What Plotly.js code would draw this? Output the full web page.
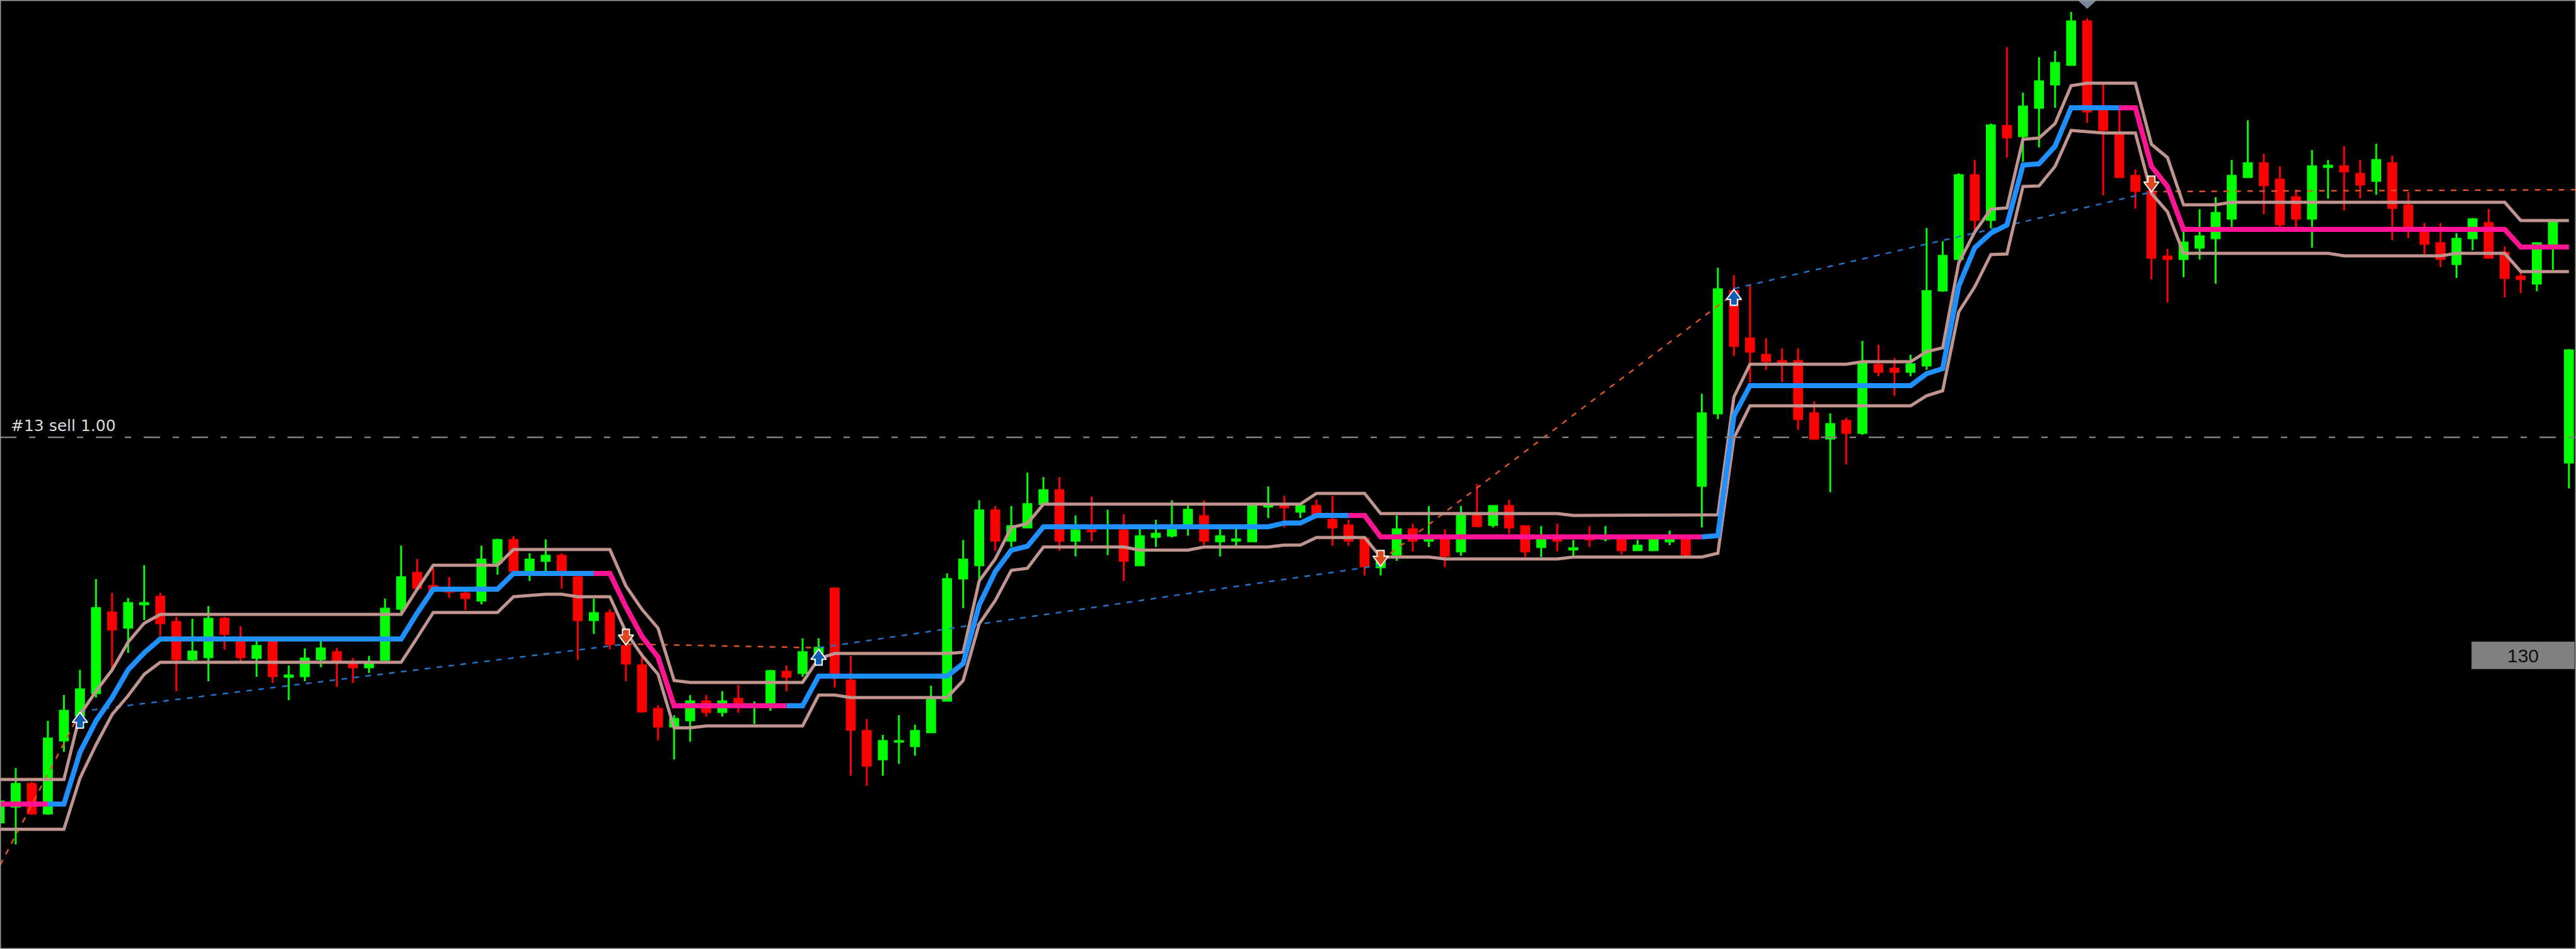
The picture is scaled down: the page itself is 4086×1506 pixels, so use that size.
<!DOCTYPE html>
<html>
<head>
<meta charset="utf-8">
<script src="https://cdn.plot.ly/plotly-3.0.1.min.js"></script>
<style>
  html, body { margin: 0; padding: 0; background: #000; }
  #chart { width: 4086px; height: 1506px; }
</style>
</head>
<body>
<div id="chart"></div>
<script>
// ---------- DATA (prices in points) ----------
const openPx = [
  201,226,262,215,331,370,406,534,510,547,
  559,519,460,463,524,487,462,487,432,433,
  460,471,453,447,459,540,597,576,570,564,
  553,613,649,599,616,624,590,522,533,481,
  450,381,353,363,393,376,397,386,386,440,
  438,459,572,426,346,301,329,322,344,394,
  588,609,696,648,669,706,728,648,664,669,
  664,609,654,656,669,687,647,648,647,702,
  706,694,703,681,672,651,606,626,666,648,
  651,631,688,673,703,671,638,651,634,656,
  651,650,633,633,647,650,735,850,1044,969,
  943,933,933,850,810,838,819,927,921,916,
  926,1045,1095,1228,1157,1306,1290,1335,1372,1403,
  1472,1331,1295,1227,1202,1099,1095,1113,1128,1159,
  1225,1247,1221,1193,1159,1241,1242,1230,1219,1247,
  1180,1140,1120,1087,1128,1152,1105,1067,1056,1115,
  772];
const highPx = [
  241,287,265,362,403,443,587,565,557,609,
  565,527,524,544,527,512,488,489,450,477,
  488,478,462,465,556,640,619,604,590,568,
  640,651,655,628,650,628,594,556,539,491,
  471,387,371,403,403,409,419,393,443,450,
  493,493,574,465,365,340,371,356,418,596,
  649,712,703,703,756,749,749,688,718,697,
  690,666,681,712,704,712,666,666,706,734,
  719,706,713,719,681,653,621,688,675,703,
  666,703,738,704,713,672,671,675,649,671,
  671,656,649,654,664,656,881,1081,1069,1054,
  969,953,953,869,850,843,965,959,938,943,
  1144,1123,1231,1252,1310,1431,1359,1415,1425,1487,
  1477,1372,1335,1237,1203,1111,1138,1174,1193,1252,
  1315,1262,1242,1205,1268,1252,1274,1252,1278,1259,
  1201,1152,1152,1136,1160,1174,1115,1078,1121,1156,
  952];
const lowPx = [
  196,166,213,213,313,366,399,439,470,522,
  497,409,456,425,475,456,432,422,395,425,
  447,416,422,438,458,534,571,566,557,538,
  547,594,598,584,599,572,459,500,476,425,
  375,331,301,329,369,369,375,357,378,409,
  432,456,415,275,259,275,294,307,343,393,
  541,584,632,638,668,705,632,623,647,625,
  584,608,638,653,656,641,623,640,646,684,
  669,684,688,640,640,593,593,616,631,638,
  606,624,670,669,659,622,622,631,622,638,
  647,626,632,632,641,621,669,841,941,899,
  919,900,824,809,725,769,816,909,878,909,
  919,1043,1093,1138,1144,1256,1249,1272,1335,1402,
  1311,1196,1224,1175,1063,1026,1066,1094,1056,1146,
  1224,1166,1144,1144,1113,1191,1172,1191,1197,1125,
  1128,1103,1082,1065,1109,1096,1034,1041,1044,1078,
  731];
const closePx = [
  234,262,215,334,378,412,541,507,549,549,
  517,460,472,524,500,463,481,433,434,461,
  477,456,447,454,540,590,573,569,567,557,
  618,649,600,618,624,600,522,533,484,453,
  377,353,365,393,376,393,386,388,441,432,
  471,478,433,348,291,330,330,346,398,587,
  618,696,648,671,706,728,648,664,663,671,
  616,655,659,667,697,648,655,650,704,703,
  701,703,689,669,648,607,619,666,648,649,
  624,688,671,703,669,631,649,648,636,650,
  656,633,640,650,649,626,850,1047,957,948,
  933,931,841,810,833,819,929,916,916,928,
  1044,1100,1228,1157,1307,1288,1337,1377,1406,1472,
  1329,1300,1225,1203,1097,1095,1121,1131,1168,1227,
  1247,1212,1150,1159,1242,1243,1234,1213,1252,1176,
  1146,1119,1095,1127,1158,1097,1065,1063,1120,1153,
  950];

// Channel indicator: middle line and bands
const midLine = [
  230,230,230,230,230,312,362,399,443,470,
  492,492,492,492,492,492,492,492,492,492,
  492,492,492,492,492,492,533,571,571,571,
  571,571,596,596,596,596,596,596,596,543,
  496,463,386,386,386,386,386,386,386,386,
  386,433,433,433,433,433,433,433,433,433,
  453,546,599,633,639,670,670,670,670,670,
  670,670,670,670,670,670,670,670,670,670,
  676,676,688,688,688,688,654,654,654,654,
  654,654,654,654,654,654,654,654,654,654,
  654,654,654,654,654,654,654,656,846,894,
  894,894,894,894,894,894,894,894,894,894,
  913,921,1052,1113,1136,1149,1244,1246,1274,1335,
  1335,1335,1335,1335,1242,1210,1142,1142,1142,1142,
  1142,1142,1142,1142,1142,1142,1142,1142,1142,1142,
  1142,1142,1142,1142,1142,1142,1142,1114,1114,1114,
  1114];
const upperBand = [
  269,269,269,269,269,372,409,443,487,517,
  531,531,531,531,531,531,531,531,531,531,
  531,531,531,531,531,531,571,609,609,609,
  609,609,634,634,634,634,634,634,634,576,
  539,509,426,423,423,423,423,423,423,423,
  423,461,469,469,469,469,469,469,469,469,
  471,584,619,669,675,706,706,706,706,706,
  706,706,706,706,706,706,706,706,706,706,
  706,706,723,723,723,723,691,691,691,691,
  691,691,691,691,691,691,691,691,688,688,
  688,688,688,688,688,688,688,689,876,928,
  928,928,928,928,928,928,932,932,932,932,
  948,954,1089,1138,1174,1176,1285,1287,1310,1370,
  1374,1374,1374,1374,1277,1256,1181,1181,1181,1185,
  1185,1185,1185,1185,1185,1185,1185,1185,1185,1185,
  1185,1185,1185,1185,1185,1185,1185,1156,1156,1156,
  1156];
const lowerBand = [
  190,190,190,190,190,271,324,372,402,436,
  455,455,455,455,455,455,455,455,455,455,
  455,455,455,455,455,455,494,534,534,534,
  534,534,559,561,563,563,559,559,559,503,
  466,436,351,351,354,354,354,354,354,354,
  354,403,403,399,399,399,399,399,399,399,
  426,516,553,601,604,638,638,638,638,638,
  638,633,633,633,633,638,638,638,638,638,
  641,641,653,653,653,653,622,622,622,622,
  619,619,619,619,619,619,619,619,622,622,
  622,622,622,622,622,622,622,628,811,862,
  862,862,862,862,862,862,862,862,862,862,
  878,886,1011,1051,1102,1103,1210,1211,1242,1299,
  1297,1295,1295,1295,1199,1170,1104,1104,1104,1104,
  1104,1104,1104,1104,1104,1104,1100,1100,1100,1100,
  1100,1100,1100,1104,1104,1104,1104,1075,1075,1075,
  1075];
// trend of the middle line: bar where each trend starts (last entry = last bar)
const trendBreaks = [0, 3, 37, 49, 84, 106, 132, 160];
const trendDirs   = ['down', 'up', 'down', 'up', 'down', 'up', 'down'];

// Trade history
const tradeType       = ['sell', 'buy', 'sell', 'buy', 'sell', 'buy', 'sell'];
const tradeOpenBar    = [-1, 5, 39, 51, 86, 108, 134];
const tradeOpenPrice  = [83, 377, 484, 478, 616, 1048, 1202];
const tradeCloseBar   = [5, 39, 51, 86, 108, 134, 161];
const tradeClosePrice = [375, 484, 478, 609, 1040, 1201, 1205];
const buyArrowBar     = [5, 51, 108];
const buyArrowPrice   = [362, 462, 1033];
const sellArrowBar    = [39, 86, 134];
const sellArrowPrice  = [496, 621, 1215];

// Open order line and labels
const orderPrice = 812;
const orderLabel = '#13 sell 1.00';
const valueLabelPrice = 466;
const valueLabel = '130';
const shiftMarkBar = 130;

// ---------- CHART ----------
const bars = openPx.map((_, i) => i);
const BLUE = '#1E90FF', PINK = '#FF1493', BAND = '#C09590';
const traces = [];

traces.push({
  type: 'candlestick', x: bars,
  open: openPx, high: highPx, low: lowPx, close: closePx,
  increasing: { line: { color: '#00FF00', width: 3 }, fillcolor: '#00FF00' },
  decreasing: { line: { color: '#FF0000', width: 3 }, fillcolor: '#FF0000' },
  whiskerwidth: 0, hoverinfo: 'skip', showlegend: false
});

// trade lines
for (let k = 0; k < tradeType.length; k++) {
  traces.push({
    type: 'scatter', mode: 'lines',
    x: [tradeOpenBar[k], tradeCloseBar[k]],
    y: [tradeOpenPrice[k], tradeClosePrice[k]],
    line: { color: tradeType[k] === 'buy' ? '#2174C6' : '#DC5422', width: 2.5, dash: '9px,10px' },
    hoverinfo: 'skip', showlegend: false
  });
}

// bands
[upperBand, lowerBand].forEach(b => traces.push({
  type: 'scatter', mode: 'lines', x: bars, y: b,
  line: { color: BAND, width: 5 }, hoverinfo: 'skip', showlegend: false
}));

// middle line, coloured by trend
for (let k = 0; k < trendDirs.length; k++) {
  const s = trendBreaks[k], e = trendBreaks[k + 1];
  traces.push({
    type: 'scatter', mode: 'lines',
    x: bars.slice(s, e + 1), y: midLine.slice(s, e + 1),
    line: { color: trendDirs[k] === 'up' ? BLUE : PINK, width: 8 },
    hoverinfo: 'skip', showlegend: false
  });
}

// trade arrows (stem + head with white outline)
function arrow(barsA, prices, dir, fill) {
  const sgn = dir === 'up' ? 1 : -1;
  const stemY = prices.map(p => p - sgn * 6);
  const headY = prices.map(p => p + sgn * 3);
  traces.push({ type: 'scatter', mode: 'markers', x: barsA, y: stemY,
    marker: { symbol: 'square', size: 11, color: fill, line: { color: '#FFFFFF', width: 2 } },
    hoverinfo: 'skip', showlegend: false });
  traces.push({ type: 'scatter', mode: 'markers', x: barsA, y: headY,
    marker: { symbol: dir === 'up' ? 'triangle-up' : 'triangle-down', size: 21, color: fill, line: { color: '#FFFFFF', width: 2 } },
    hoverinfo: 'skip', showlegend: false });
  traces.push({ type: 'scatter', mode: 'markers', x: barsA, y: stemY.map(v => v + sgn * 2),
    marker: { symbol: 'square', size: 9, color: fill, line: { width: 0 } },
    hoverinfo: 'skip', showlegend: false });
}
arrow(buyArrowBar, buyArrowPrice, 'up', '#0F5CB0');
arrow(sellArrowBar, sellArrowPrice, 'down', '#E0461E');

const layout = {
  width: 4086, height: 1506,
  margin: { l: 0, r: 0, t: 0, b: 0, pad: 0 },
  paper_bgcolor: '#000000', plot_bgcolor: '#000000',
  showlegend: false, hovermode: false,
  boxgap: 0.5, boxgroupgap: 0,
  xaxis: { range: [0.02, 160.44], visible: false, showgrid: false, zeroline: false,
           rangeslider: { visible: false }, fixedrange: true },
  yaxis: { range: [0, 1506], visible: false, showgrid: false, zeroline: false, fixedrange: true },
  shapes: [
    { type: 'line', xref: 'paper', yref: 'y', x0: 0, x1: 1, y0: orderPrice, y1: orderPrice,
      line: { color: '#808080', width: 2.5, dash: '26px,20px,10px,20px' }, layer: 'above' },
    { type: 'path', xref: 'x', yref: 'y',
      path: `M ${shiftMarkBar - 0.6},1506 L ${shiftMarkBar + 0.6},1506 L ${shiftMarkBar},1492 Z`,
      fillcolor: '#778899', line: { width: 0 }, layer: 'above' },
    { type: 'rect', xref: 'paper', yref: 'paper', x0: 0, x1: 1, y0: 0, y1: 1,
      line: { color: '#9A9A9A', width: 3 }, layer: 'above' }
  ],
  annotations: [
    { xref: 'paper', yref: 'y', x: 0, y: orderPrice, xanchor: 'left', yanchor: 'bottom',
      xshift: 15, yshift: 2, showarrow: false, text: orderLabel,
      font: { family: 'DejaVu Sans, Verdana, sans-serif', size: 25, color: '#DCDCDC' } },
    { xref: 'paper', yref: 'y', x: 1, y: valueLabelPrice, xanchor: 'right', yanchor: 'middle',
      xshift: -2, showarrow: false, text: valueLabel,
      width: 160, height: 40, align: 'center', valign: 'middle',
      bgcolor: '#808080', bordercolor: '#5E5E5E', borderwidth: 1, borderpad: 1,
      font: { family: 'Liberation Sans, Arial, sans-serif', size: 30, color: '#101010' } }
  ]
};

Plotly.newPlot('chart', traces, layout, { staticPlot: true, displayModeBar: false });
</script>
</body>
</html>
